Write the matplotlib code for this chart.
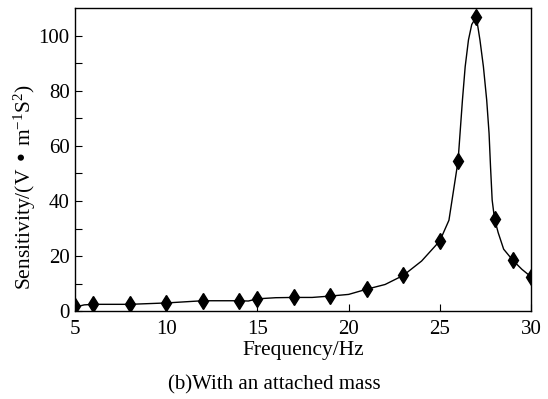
import numpy as np
import matplotlib.pyplot as plt

plt.rcParams['font.family'] = ['Liberation Serif', 'DejaVu Serif']
plt.rcParams['mathtext.default'] = 'regular'

# measured points (markers)
freq = [5, 6, 8, 10, 12, 14, 15, 17, 19, 21, 23, 25, 26, 27, 28, 29, 30]
sens = [1.8, 2.5, 2.5, 3.0, 3.8, 3.8, 4.5, 5.0, 5.6, 8.0, 13.0, 25.5, 54.5, 106.8, 33.5, 18.5, 12.5]

# smooth fitted curve
curve_f = [5, 5.5, 6, 8, 10, 12, 14, 14.5, 15, 16, 17, 18, 19, 20, 21, 22, 23, 24, 25,
           25.5, 26, 26.24, 26.39, 26.57, 26.75, 27, 27.2, 27.39, 27.57, 27.7, 27.78, 27.87,
           28, 28.2, 28.5, 29, 29.5, 30]
curve_s = [1.5, 2.3, 2.5, 2.5, 3.0, 3.8, 3.8, 3.7, 4.5, 4.9, 5.0, 5.0, 5.5, 6.1, 8.0, 9.7,
           13.0, 18.2, 25.5, 33.0, 54.5, 76.6, 88.7, 98.4, 104.0, 106.8, 98.4, 88.7, 76.6,
           64.5, 52.4, 40.3, 33.5, 28.5, 22.5, 18.5, 15.2, 12.5]

fig = plt.figure(figsize=(5.48, 3.99), dpi=100)
ax = fig.add_axes([0.137, 0.22, 0.832, 0.76])

ax.plot(curve_f, curve_s, color='black', lw=1.0)
ax.plot(freq, sens, linestyle='none', marker='d', color='black', markersize=8)

ax.set_xlim(5, 30)
ax.set_ylim(0, 110)
ax.set_xticks([5, 10, 15, 20, 25, 30])
ax.set_yticks([0, 20, 40, 60, 80, 100])
ax.set_yticks(np.arange(10, 110, 20), minor=True)
ax.tick_params(direction='in', labelsize=15, length=5, width=0.8)
ax.tick_params(axis='x', pad=6)
ax.tick_params(axis='y', pad=4)
ax.tick_params(which='minor', direction='in', length=5, width=0.8)
for s in ax.spines.values():
    s.set_linewidth(1.0)

ax.set_xlabel('Frequency/Hz', fontsize=15.5, labelpad=2)
ax.set_ylabel('Sensitivity/(V • m$^{-1}$S$^{2}$)', fontsize=15.5, va='center')
ax.yaxis.set_label_coords(-0.11, 0.41)
fig.text(0.5, 0.035, '(b)With an attached mass', ha='center', va='center', fontsize=15)

fig.savefig('out.png', dpi=100)
